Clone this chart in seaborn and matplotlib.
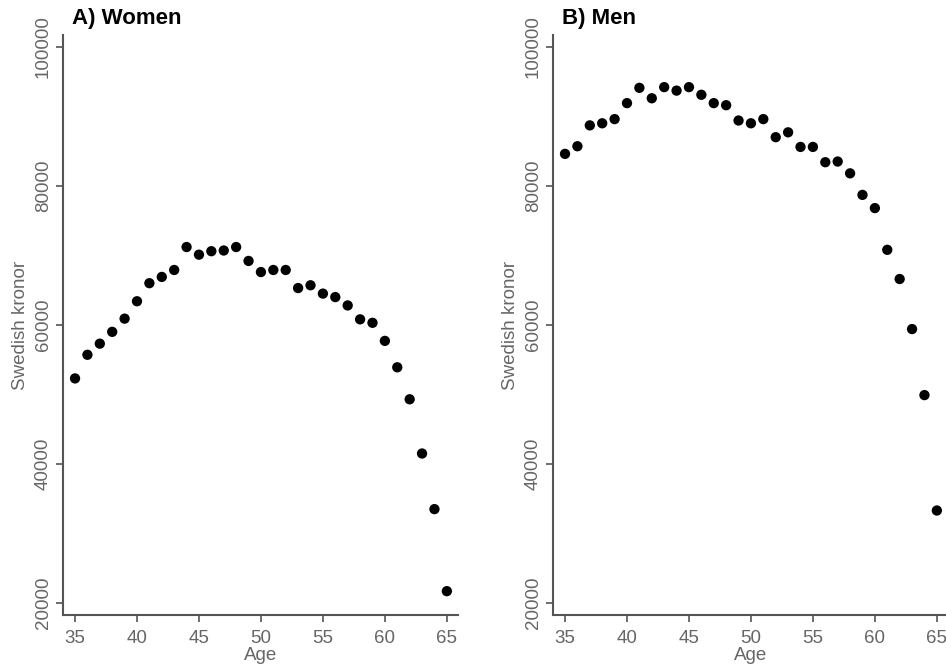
import pandas as pd
import matplotlib
matplotlib.use('Agg')
import matplotlib.pyplot as plt
import seaborn as sns

ages = list(range(35, 66))
women = [52300, 55700, 57300, 59000, 60900, 63400, 66000, 66900, 67900, 71200,
         70100, 70600, 70700, 71200, 69200, 67600, 67900, 67900, 65300, 65700,
         64500, 64000, 62800, 60800, 60300, 57700, 53900, 49300, 41500, 33500, 21700]
men = [84600, 85700, 88700, 89000, 89600, 91900, 94100, 92600, 94200, 93700,
       94200, 93100, 91900, 91600, 89400, 89000, 89600, 87000, 87700, 85600,
       85600, 83400, 83500, 81800, 78700, 76800, 70800, 66600, 59400, 49900, 33300]
titles = ['A) Women', 'B) Men']
yticks = [20000, 40000, 60000, 80000, 100000]
xticks = [35, 40, 45, 50, 55, 60, 65]

sns.set_style('ticks')
plt.rcParams['font.family'] = ['Liberation Sans', 'DejaVu Sans']

grey = '#555555'
fig = plt.figure(figsize=(9.46, 6.72), dpi=100)
ax1 = fig.add_axes([63/946, 1-615/672, 395/946, 580/672])
ax2 = fig.add_axes([553/946, 1-615/672, 395/946, 580/672])

for ax, vals, title in zip([ax1, ax2], [women, men], titles):
    df = pd.DataFrame({'Age': ages, 'Value': vals})
    sns.scatterplot(data=df, x='Age', y='Value', ax=ax, color='black', s=55,
                    edgecolor='none', linewidth=0)
    ax.set_xlim(34.03, 65.9)
    ax.set_ylim(18270, 101700)
    ax.set_xticks(xticks)
    ax.set_yticks(yticks)
    ax.set_yticklabels([str(t) for t in yticks], rotation=90, va='center')
    sns.despine(ax=ax)
    for sp in ['left', 'bottom']:
        ax.spines[sp].set_color(grey)
        ax.spines[sp].set_linewidth(1.5)
    ax.tick_params(colors=grey, labelcolor='#666666', labelsize=13.5,
                   length=5, width=1.2, pad=3)
    ax.tick_params(axis='x', pad=6)
    ax.set_xlabel('Age', fontsize=13.5, color='#666666', labelpad=0)
    ax.set_ylabel('Swedish kronor', fontsize=13.5, color='#666666')
    ax.yaxis.set_label_coords(-0.085, 0.5)
    ax.xaxis.set_label_coords(0.5, -0.055)
    ax.text(0.023, 1.029, title, transform=ax.transAxes, fontsize=16,
            fontweight='bold', color='black', va='center', ha='left')

fig.savefig('out.png', dpi=100)
